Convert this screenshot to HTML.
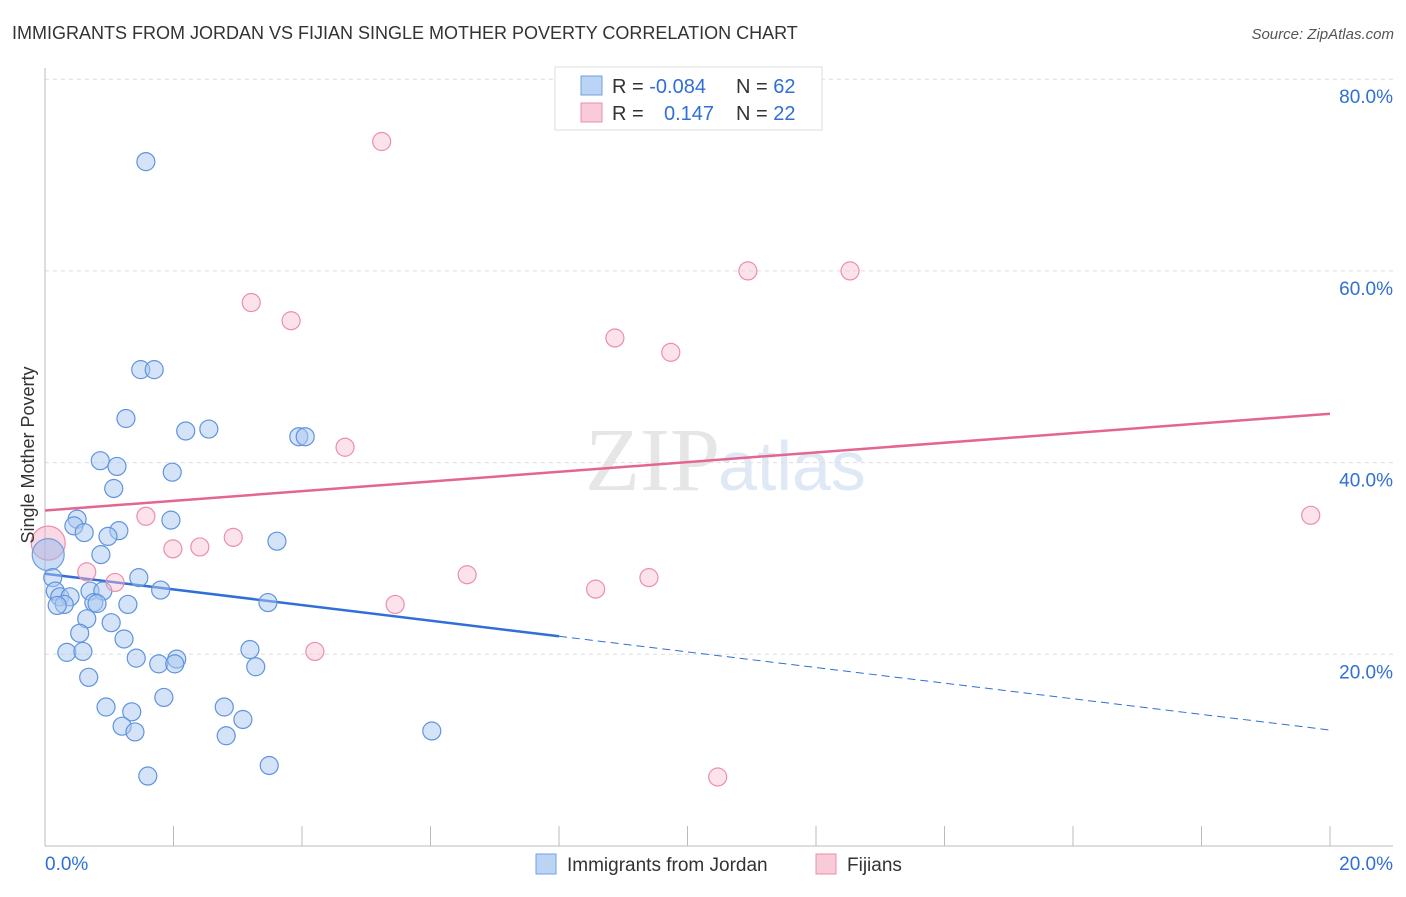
<!DOCTYPE html>
<html><head><meta charset="utf-8"><style>
body{margin:0;background:#fff;font-family:"Liberation Sans",sans-serif}
</style></head><body>
<svg width="1406" height="892" xmlns="http://www.w3.org/2000/svg" font-family="Liberation Sans, sans-serif">
<text x="12" y="39" font-size="18" fill="#333">IMMIGRANTS FROM JORDAN VS FIJIAN SINGLE MOTHER POVERTY CORRELATION CHART</text>
<text x="1394" y="39" font-size="15" fill="#555" font-style="italic" text-anchor="end">Source: ZipAtlas.com</text>
<text x="720" y="490" font-size="90" fill="#e6e6e6" text-anchor="end" font-family="Liberation Serif, serif">ZIP</text>
<text x="718" y="490" font-size="70" fill="#dfe8f5">atlas</text>
<g id="grid"></g><g id="axes"></g><g id="trends"></g><g id="pts"></g>
<text transform="translate(34,455) rotate(-90)" font-size="18" fill="#333" text-anchor="middle">Single Mother Poverty</text>
<g>
<rect x="555" y="67" width="267" height="63" fill="#fff" stroke="#ddd"/>
<rect x="581" y="76" width="21" height="19" fill="#bcd4f4" stroke="#6f9fe0"/>
<rect x="581" y="103" width="21" height="19" fill="#f9cad8" stroke="#eb8fac"/>
<text x="612" y="93" font-size="20" fill="#333">R = <tspan fill="#2f6fd6">-0.084</tspan></text>
<text x="736" y="93" font-size="20" fill="#333">N = <tspan fill="#2f6fd6">62</tspan></text>
<text x="612" y="120" font-size="20" fill="#333">R = <tspan fill="#2f6fd6" x="664">0.147</tspan></text>
<text x="736" y="120" font-size="20" fill="#333">N = <tspan fill="#2f6fd6">22</tspan></text>
</g>
<g>
<rect x="536" y="854" width="20" height="20" fill="#bcd4f4" stroke="#6f9fe0"/>
<text x="567" y="871" font-size="19" fill="#333">Immigrants from Jordan</text>
<rect x="816" y="854" width="20" height="20" fill="#f9cad8" stroke="#eb8fac"/>
<text x="847" y="871" font-size="19" fill="#333">Fijians</text>
</g>
</svg>
<script>
const blueX=[1.57,1.49,1.70,1.26,2.19,2.55,3.95,4.05,0.86,1.12,1.98,1.07,0.50,0.45,0.61,1.15,0.98,1.96,3.61,0.87,0.12,1.46,0.16,0.23,0.39,0.30,0.19,0.70,0.90,0.76,0.81,1.29,1.80,3.47,0.65,1.03,0.54,1.23,0.34,0.59,1.42,1.77,2.05,2.02,3.19,3.28,0.68,1.85,0.95,2.79,1.35,3.08,1.20,1.40,2.82,6.02,3.49,1.60];
const blueY=[71.4,49.7,49.7,44.6,43.3,43.5,42.7,42.7,40.2,39.6,39.0,37.3,34.1,33.4,32.7,32.9,32.3,34.0,31.8,30.4,28.0,28.0,26.6,26.0,26.0,25.2,25.1,26.6,26.6,25.4,25.3,25.2,26.7,25.4,23.7,23.3,22.2,21.6,20.2,20.3,19.6,19.0,19.5,19.0,20.5,18.7,17.6,15.5,14.5,14.5,14.0,13.2,12.5,11.9,11.5,12.0,8.4,7.3];
const pinkX=[5.24,10.94,12.53,3.21,3.83,8.87,9.74,4.67,1.57,2.93,1.99,2.41,0.65,1.09,6.57,9.40,8.57,5.45,4.20,10.47,19.70];
const pinkY=[73.5,60.0,60.0,56.7,54.8,53.0,51.5,41.6,34.4,32.2,31.0,31.2,28.6,27.5,28.3,28.0,26.8,25.2,20.3,7.2,34.5];
const bigBlue=[0.05,30.4], bigPink=[0.05,31.6];
const blueTrend=[28.4,12.1], pinkTrend=[35.0,45.1];
const yTicks=[20,40,60,80];
const xTicks=[0,2,4,6,8,10,12,14,16,18,20];
const NS='http://www.w3.org/2000/svg';
const sx=v=>45+v/20*1285, sy=v=>846-v*9.585;
function mk(t,a,p){const e=document.createElementNS(NS,t);for(const k in a)e.setAttribute(k,a[k]);document.getElementById(p).appendChild(e);return e;}
yTicks.forEach(t=>{
 const l=mk('line',{x1:45,x2:1393,y1:sy(t),y2:sy(t),stroke:'#ddd','stroke-dasharray':'4,4'},'grid');
 
 
 const tx=mk('text',{x:1393,y:sy(t)+24,'font-size':19,fill:'#2f6fd6','text-anchor':'end'},'grid');tx.textContent=t.toFixed(1)+'%';
 
 
});
mk('line',{x1:45,x2:45,y1:68,y2:846,stroke:'#bbb'},'axes');
mk('line',{x1:45,x2:1393,y1:846,y2:846,stroke:'#bbb'},'axes');
xTicks.forEach(t=>{
 const l=mk('line',{x1:sx(t),x2:sx(t),y1:826,y2:846,stroke:'#bbb'},'axes');
 
 
});
[[0,45,'start'],[20,1393,'end']].forEach(([v,x,a])=>{
 const tx=mk('text',{x:x,y:870,'font-size':19,fill:'#2f6fd6','text-anchor':a},'axes');tx.textContent=v.toFixed(1)+'%';
 
 
});
const bAt=x=>blueTrend[0]+(blueTrend[1]-blueTrend[0])*x/20;
let l1=mk('line',{x1:sx(0),y1:sy(bAt(0)),x2:sx(8),y2:sy(bAt(8)),stroke:'#2f6fd6','stroke-width':2.5},'trends');


let l2=mk('line',{x1:sx(8),y1:sy(bAt(8)),x2:sx(20),y2:sy(bAt(20)),stroke:'#2f6fd6','stroke-width':1,'stroke-dasharray':'8,5'},'trends');


let l3=mk('line',{x1:sx(0),y1:sy(pinkTrend[0]),x2:sx(20),y2:sy(pinkTrend[1]),stroke:'#e4668f','stroke-width':2.5},'trends');


function pt(x,y,r,f,s,n){const c=mk('circle',{cx:sx(x),cy:sy(y),r:r,fill:f,stroke:s,'stroke-width':1.2},'pts');
 
 }
pt(bigPink[0],bigPink[1],17,'rgba(245,170,195,0.45)','#eb8fac','fijians-point');
pt(bigBlue[0],bigBlue[1],16,'rgba(150,185,235,0.5)','#6f9fe0','jordan-point');
blueX.forEach((x,i)=>pt(x,blueY[i],9,'rgba(170,200,240,0.5)','#5f94de','jordan-point'));
pinkX.forEach((x,i)=>pt(x,pinkY[i],9,'rgba(248,190,210,0.45)','#eb8fac','fijians-point'));
</script>
</body></html>
